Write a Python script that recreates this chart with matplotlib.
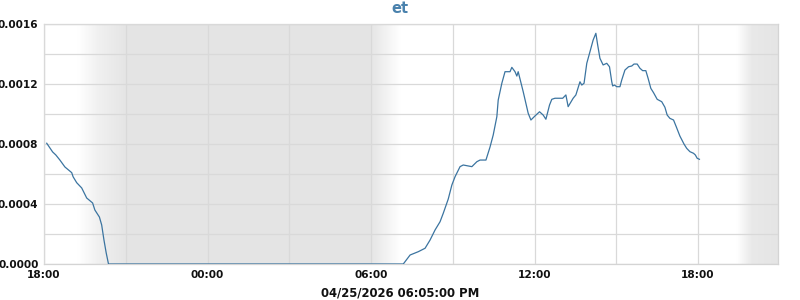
import numpy as np
import matplotlib
matplotlib.use("Agg")
import matplotlib.pyplot as plt
import matplotlib.dates as mdates
import matplotlib.ticker as mticker
from datetime import datetime, timedelta

# ---- data ----
start = datetime(2026, 4, 24, 18, 0)
minutes = [6, 19, 26, 35, 46, 61, 64, 72, 83, 94, 107, 112, 122, 127, 132, 137, 142,
           791, 806, 824, 839, 850, 861, 872, 879, 890, 898, 905, 916, 923, 942, 953,
           960, 973, 982, 989, 997, 1000, 1008, 1015, 1026, 1030, 1037, 1041, 1044,
           1055, 1066, 1072, 1081, 1091, 1099, 1105, 1113, 1118, 1125, 1142, 1149,
           1154, 1165, 1171, 1180, 1184, 1189, 1195, 1202, 1209, 1215, 1219, 1224,
           1231, 1239, 1245, 1250, 1252, 1256, 1261, 1268, 1272, 1279, 1287, 1294,
           1299, 1306, 1312, 1318, 1325, 1330, 1336, 1342, 1350, 1360, 1367, 1372,
           1378, 1386, 1392, 1400, 1409, 1415, 1422, 1430, 1434, 1438, 1443]
values = [0.000805, 0.000747, 0.000727, 0.000693, 0.000647, 0.000609, 0.000582,
          0.000542, 0.000507, 0.000440, 0.000407, 0.000360, 0.000313, 0.000260,
          0.000160, 0.000073, 0.0,
          0.0, 0.000060, 0.000082, 0.000105, 0.000160, 0.000227, 0.000282,
          0.000338, 0.000433, 0.000527, 0.000582, 0.000649, 0.000660, 0.000649,
          0.000682, 0.000693, 0.000693, 0.000780, 0.000860, 0.000982, 0.001093,
          0.001205, 0.001282, 0.001282, 0.001311, 0.001282, 0.001253, 0.001282,
          0.001149, 0.001005, 0.000960, 0.000987, 0.001015, 0.000993, 0.000965,
          0.001060, 0.001098, 0.001105, 0.001105, 0.001127, 0.001049, 0.001105,
          0.001127, 0.001215, 0.001193, 0.001205, 0.001338, 0.001415, 0.001493,
          0.001538, 0.001460, 0.001371, 0.001327, 0.001338, 0.001315, 0.001215,
          0.001187, 0.001193, 0.001182, 0.001182, 0.001227, 0.001293, 0.001315,
          0.001320, 0.001333, 0.001333, 0.001305, 0.001289, 0.001289, 0.001238,
          0.001171, 0.001142, 0.001098, 0.001082, 0.001045, 0.000993, 0.000971,
          0.000960, 0.000915, 0.000853, 0.000800, 0.000771, 0.000749, 0.000738,
          0.000727, 0.000705, 0.000698]
y_ticks = [0.0, 0.0004, 0.0008, 0.0012, 0.0016]
title = "et"
xlabel = "04/25/2026 06:05:00 PM"

times = [start + timedelta(minutes=m) for m in minutes]
x_end = start + timedelta(minutes=1616)

fig = plt.figure(figsize=(8, 3), dpi=100)
ax = fig.add_axes([0.055, 0.12, 0.9175, 0.80])

# night shading (gradient image)
x0 = mdates.date2num(start)
x1 = mdates.date2num(x_end)
grid_min = np.linspace(0, 1616, 2000)
key_min = [0, 75, 118, 180, 720, 784, 1526, 1559, 1616]
key_a = [0, 0, 0.55, 1.0, 1.0, 0.0, 0.0, 0.85, 1.0]
alpha = np.interp(grid_min, key_min, key_a)
gray = 0.898
shade = 1 - alpha * (1 - gray)
row = np.stack([shade, shade, shade], axis=-1)  # (N, 3)
img = np.stack([row, row], axis=0)              # (2, N, 3)
ax.imshow(img, extent=[x0, x1, 0, 0.0016], aspect="auto", zorder=0,
          interpolation="bilinear")

ax.plot(times, values, color="#3b74a0", lw=0.9, zorder=3)

ax.set_xlim(x0, x1)
ax.set_ylim(0, 0.0016)

ax.xaxis.set_major_locator(mdates.HourLocator(byhour=[0, 6, 12, 18]))
ax.xaxis.set_minor_locator(mdates.HourLocator(byhour=[3, 9, 15, 21]))
ax.xaxis.set_major_formatter(mdates.DateFormatter("%H:%M"))
ax.yaxis.set_major_locator(mticker.FixedLocator(y_ticks))
ax.yaxis.set_minor_locator(mticker.MultipleLocator(0.0002))
ax.yaxis.set_major_formatter(mticker.FormatStrFormatter("%.4f"))

ax.grid(True, which="both", color="#d9d9d9", lw=0.9, zorder=1)
ax.set_axisbelow(False)
for s in ax.spines.values():
    s.set_color("#d4d4d4")
    s.set_linewidth(0.9)
ax.tick_params(which="both", length=0, pad=4)
for lab in ax.get_xticklabels() + ax.get_yticklabels():
    lab.set_fontsize(7.6)
    lab.set_fontweight("bold")
    lab.set_color("#111111")

fig.text(0.5, 0.972, title, ha="center", va="center", fontsize=10.5,
         fontweight="bold", color="#4a82ad")
fig.text(0.5, 0.024, xlabel, ha="center", va="center", fontsize=8.4,
         fontweight="bold", color="#111111")

fig.savefig("out.png", dpi=100)
